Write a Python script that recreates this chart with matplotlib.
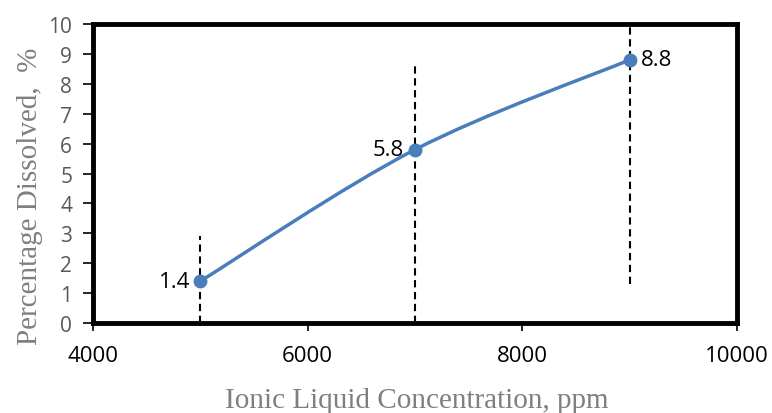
import numpy as np
import matplotlib
matplotlib.use('Agg')
import matplotlib.pyplot as plt
from matplotlib.path import Path
from matplotlib.patches import PathPatch

#data
conc = [5000, 7000, 9000]
dissolved = [1.4, 5.8, 8.8]
err_low = [1.4, 5.8, 7.5]
err_high = [1.5, 2.9, 1.2]
labels = ['1.4', '5.8', '8.8']

LINE_COLOR = '#4a7ebb'

fig = plt.figure(figsize=(7.72, 4.14), dpi=100)
ax = fig.add_axes([0.1205, 0.2174, 0.8342, 0.7222])

#smoothed line like excel (catmull-rom bezier through the points)
pts = np.column_stack([conc, dissolved]).astype(float)
padded = np.vstack([pts[0], pts, pts[-1]])
verts = [pts[0]]
codes = [Path.MOVETO]
for i in range(len(pts) - 1):
    p0, p1, p2, p3 = padded[i], padded[i + 1], padded[i + 2], padded[i + 3]
    verts += [p1 + (p2 - p0) / 6, p2 - (p3 - p1) / 6, p2]
    codes += [Path.CURVE4] * 3
ax.add_patch(PathPatch(Path(verts, codes), fill=False, edgecolor=LINE_COLOR, lw=2.5, zorder=3))

#dashed error bars
eb = ax.errorbar(conc, dissolved, yerr=[err_low, err_high], fmt='none',
                 ecolor='black', elinewidth=1.5, capsize=0, zorder=2)
eb[2][0].set_linestyle((0, (3.5, 2.2)))

ax.plot(conc, dissolved, 'o', color=LINE_COLOR, markersize=9, zorder=4)

#data labels
offsets = [(-7, 'right'), (-8, 'right'), (8, 'left')]
for x, y, t, (dx, ha) in zip(conc, dissolved, labels, offsets):
    ax.annotate(t, (x, y), xytext=(dx, 0), textcoords='offset points',
                ha=ha, va='center', fontsize=16, family='Open Sans', color='black')

ax.set_xlim(4000, 10000)
ax.set_ylim(0, 10)
ax.set_xticks(range(4000, 10001, 2000))
ax.set_yticks(range(0, 11))

for s in ax.spines.values():
    s.set_linewidth(3.5)
    s.set_color('black')

ax.tick_params(axis='both', direction='out', length=6, width=1.2, color='black')
ax.tick_params(axis='x', labelsize=16, labelcolor='black', pad=10)
ax.tick_params(axis='y', labelsize=15, labelcolor='#595959', length=7, pad=8)
for lab in ax.get_xticklabels() + ax.get_yticklabels():
    lab.set_family('Open Sans')

ax.set_xlabel('Ionic Liquid Concentration, ppm', family='Liberation Serif',
              fontsize=21, color='#7f7f7f', va='top')
ax.xaxis.set_label_coords(0.503, -0.215)
ax.set_ylabel('Percentage Dissolved,  %', family='Liberation Serif',
              fontsize=21, color='#7f7f7f')
ax.yaxis.set_label_coords(-0.078, 0.428)

plt.savefig('out.png', dpi=100)
